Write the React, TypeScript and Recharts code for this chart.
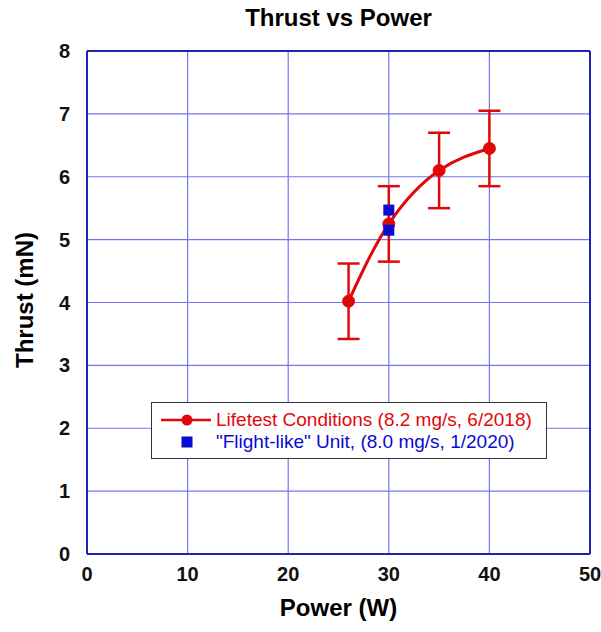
import { ComposedChart, Line, XAxis, YAxis, CartesianGrid, ErrorBar, Legend } from 'recharts'

// Lifetest conditions (8.2 mg/s, 6/2018)
const lifetestPower = [26, 30, 35, 40]
const lifetestThrust = [4.02, 5.25, 6.1, 6.45]
const lifetestError = [0.6, 0.6, 0.6, 0.6]

// "Flight-like" unit (8.0 mg/s, 1/2020)
const flightPower = [30, 30]
const flightThrust = [5.47, 5.15]

const xTicks = [0, 10, 20, 30, 40, 50]
const yTicks = [0, 1, 2, 3, 4, 5, 6, 7, 8]
const xMinorTicks = [0, 2, 4, 6, 8, 10, 12, 14, 16, 18, 20, 22, 24, 26, 28, 30, 32, 34, 36, 38, 40, 42, 44, 46, 48, 50]
const yMinorTicks = [
    0, 0.2, 0.4, 0.6, 0.8, 1, 1.2, 1.4, 1.6, 1.8, 2, 2.2, 2.4, 2.6, 2.8, 3, 3.2, 3.4, 3.6, 3.8, 4,
    4.2, 4.4, 4.6, 4.8, 5, 5.2, 5.4, 5.6, 5.8, 6, 6.2, 6.4, 6.6, 6.8, 7, 7.2, 7.4, 7.6, 7.8, 8,
]

const lifetestName = 'Lifetest Conditions (8.2 mg/s, 6/2018)'
const flightName = '"Flight-like" Unit, (8.0 mg/s, 1/2020)'

const lifetestData = lifetestPower.map((p, i) => ({ power: p, thrust: lifetestThrust[i], err: lifetestError[i] }))
const flightData = flightPower.map((p, i) => ({ power: p, thrust: flightThrust[i] }))

const FONT = '"Liberation Sans", Arial, Helvetica, sans-serif'
const RED = '#e00808'
const BLUE = '#0a0ad0'
const GRID = '#7474f2'
const FRAME = '#2222b8'

const tickStyle = { fill: '#111', fontSize: 20, fontWeight: 700, fontFamily: FONT }
const minorLine = { stroke: FRAME, strokeWidth: 1.5 }
const noLabel = () => ''

// square marker for the flight-like unit
const SquareDot = (props: { cx?: number; cy?: number; index?: number }) => {
    const { cx = 0, cy = 0, index } = props
    return <rect key={`sq-${index}`} x={cx - 5.5} y={cy - 5.5} width={11} height={11} fill={BLUE} />
}

// legend box drawn inside the plot
const LegendBox = () => (
    <div
        style={{
            width: 396,
            height: 57,
            boxSizing: 'border-box',
            border: '1.5px solid #333',
            background: '#fff',
            fontFamily: FONT,
            fontSize: 19,
            lineHeight: '22px',
            paddingTop: 6,
        }}
    >
        <div style={{ display: 'flex', alignItems: 'center', height: 22 }}>
            <svg width={64} height={14} style={{ flex: 'none' }}>
                <line x1={9} x2={59} y1={7} y2={7} stroke={RED} strokeWidth={2.5} />
                <circle cx={35} cy={7} r={5.5} fill={RED} />
            </svg>
            <span style={{ color: RED }}>{lifetestName}</span>
        </div>
        <div style={{ display: 'flex', alignItems: 'center', height: 22 }}>
            <svg width={64} height={14} style={{ flex: 'none' }}>
                <rect x={29.5} y={1.5} width={11} height={11} fill={BLUE} />
            </svg>
            <span style={{ color: BLUE }}>{flightName}</span>
        </div>
    </div>
)

export default function App() {
    return (
        <div style={{ position: 'absolute', left: 0, top: 0, width: 601, height: 632, background: '#fff' }}>
            <div
                style={{
                    position: 'absolute',
                    left: 0,
                    width: 677,
                    top: 4,
                    textAlign: 'center',
                    fontFamily: FONT,
                    fontWeight: 700,
                    fontSize: 24,
                }}
            >
                Thrust vs Power
            </div>
            <div
                style={{
                    position: 'absolute',
                    left: 25,
                    top: 300,
                    transform: 'translate(-50%, -50%) rotate(-90deg)',
                    whiteSpace: 'nowrap',
                    fontFamily: FONT,
                    fontWeight: 700,
                    fontSize: 24,
                }}
            >
                Thrust (mN)
            </div>
            <div
                style={{
                    position: 'absolute',
                    left: 0,
                    width: 677,
                    top: 594,
                    textAlign: 'center',
                    fontFamily: FONT,
                    fontWeight: 700,
                    fontSize: 24,
                }}
            >
                Power (W)
            </div>
            <ComposedChart width={601} height={632} margin={{ top: 51, right: 11, bottom: 48, left: 47 }}>
                <CartesianGrid xAxisId="x" yAxisId="y" stroke={GRID} strokeWidth={1.2} />
                {/* minor ticks, pointing inward */}
                <XAxis xAxisId="xb" type="number" domain={[0, 50]} ticks={xMinorTicks} height={1} mirror tickFormatter={noLabel} tickSize={5} axisLine={false} tickLine={minorLine} />
                <XAxis xAxisId="xt" orientation="top" type="number" domain={[0, 50]} ticks={xMinorTicks} height={1} mirror tickFormatter={noLabel} tickSize={5} axisLine={{ stroke: FRAME, strokeWidth: 2 }} tickLine={minorLine} />
                <YAxis yAxisId="yl" type="number" domain={[0, 8]} ticks={yMinorTicks} width={1} mirror tickFormatter={noLabel} tickSize={5} axisLine={false} tickLine={minorLine} />
                <YAxis yAxisId="yr" orientation="right" type="number" domain={[0, 8]} ticks={yMinorTicks} width={1} mirror tickFormatter={noLabel} tickSize={5} axisLine={{ stroke: FRAME, strokeWidth: 2 }} tickLine={minorLine} />
                {/* main axes with labels */}
                <XAxis
                    xAxisId="x"
                    dataKey="power"
                    type="number"
                    domain={[0, 50]}
                    ticks={xTicks}
                    height={30}
                    tickLine={false}
                    tickSize={0}
                    tickMargin={13}
                    axisLine={{ stroke: FRAME, strokeWidth: 2 }}
                    tick={tickStyle}
                    allowDataOverflow
                />
                <YAxis
                    yAxisId="y"
                    type="number"
                    domain={[0, 8]}
                    ticks={yTicks}
                    width={40}
                    tickLine={false}
                    tickSize={0}
                    tickMargin={17}
                    axisLine={{ stroke: FRAME, strokeWidth: 2 }}
                    tick={tickStyle}
                    allowDataOverflow
                />
                <Line
                    xAxisId="x"
                    yAxisId="y"
                    name={lifetestName}
                    data={lifetestData}
                    dataKey="thrust"
                    type="natural"
                    stroke={RED}
                    strokeWidth={3}
                    dot={{ r: 6, fill: RED, stroke: RED, strokeWidth: 1 }}
                    isAnimationActive={false}
                >
                    <ErrorBar dataKey="err" direction="y" width={11} stroke={RED} strokeWidth={2.5} />
                </Line>
                {/* flight-like unit: markers only, drawn on top of the lifetest curve */}
                <Line
                    xAxisId="x"
                    yAxisId="y"
                    name={flightName}
                    data={flightData}
                    dataKey="thrust"
                    stroke="none"
                    dot={<SquareDot />}
                    activeDot={false}
                    isAnimationActive={false}
                />
                <Legend
                    layout="horizontal"
                    verticalAlign="middle"
                    align="center"
                    content={<LegendBox />}
                    wrapperStyle={{ left: 151, top: 402, width: 396, height: 57 }}
                />
            </ComposedChart>
        </div>
    )
}
